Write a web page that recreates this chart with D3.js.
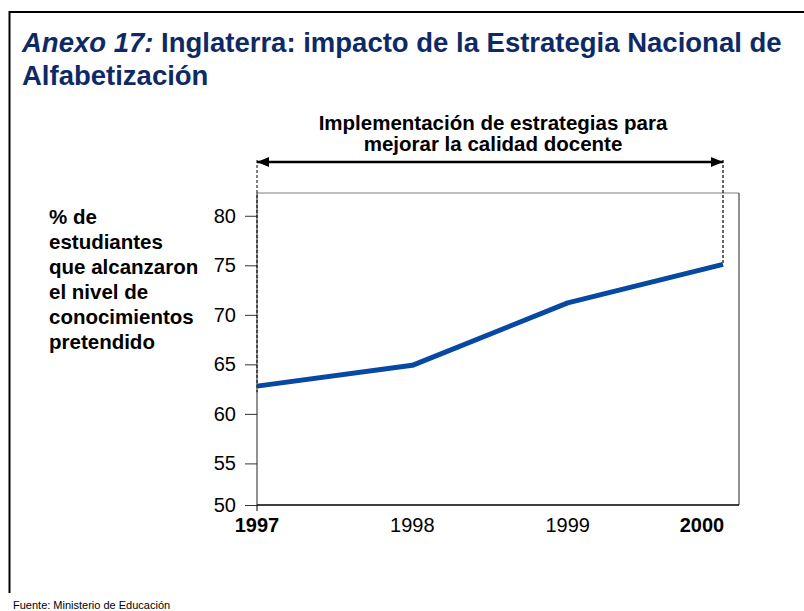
<!DOCTYPE html>
<html>
<head>
<meta charset="utf-8">
<script src="https://cdn.jsdelivr.net/npm/d3@7"></script>
<style>
  html, body { margin: 0; padding: 0; background: #fff; }
  svg { display: block; font-family: "Liberation Sans", Arial, sans-serif; }
</style>
</head>
<body>
<svg id="chart" width="804" height="611"></svg>
<script>
// ---- data ----
const years = [1997, 1998, 1999, 2000];
const values = [62.8, 64.9, 71.2, 75.1];
const yTicks = [50, 55, 60, 65, 70, 75, 80];
const boldYears = [1997, 2000];
const titleItalic = "Anexo 17:";
const titleRest = " Inglaterra: impacto de la Estrategia Nacional de";
const titleLine2 = "Alfabetización";
const arrowLabel = ["Implementación de estrategias para", "mejorar la calidad docente"];
const yLabel = ["% de", "estudiantes", "que alcanzaron", "el nivel de", "conocimientos", "pretendido"];
const source = "Fuente: Ministerio de Educación";

// ---- layout ----
const svg = d3.select("#chart");
const navy = "#0e2a66";
const blue = "#0649a3";

const plot = { left: 257, right: 739, top: 193, bottom: 505 };
const x = d3.scaleLinear().domain([1997, 2000]).range([257, 723]);
const y = d3.scaleLinear().domain([50.8, 82.3]).range([plot.bottom, plot.top]).clamp(true);

// frame
svg.append("path")
  .attr("d", `M9.5,593 L9.5,12 L804,12`)
  .attr("fill", "none").attr("stroke", "#000").attr("stroke-width", 2);

// title
const t1 = svg.append("text").attr("x", 22).attr("y", 52)
  .attr("fill", navy).attr("font-size", 27.5).attr("font-weight", "bold");
t1.append("tspan").attr("font-style", "italic").text(titleItalic);
t1.append("tspan").text(titleRest);
svg.append("text").attr("x", 22).attr("y", 85)
  .attr("fill", navy).attr("font-size", 27.5).attr("font-weight", "bold")
  .text(titleLine2);

// plot box (top gray, right dark)
svg.append("line").attr("x1", plot.left).attr("x2", plot.right)
  .attr("y1", plot.top).attr("y2", plot.top).attr("stroke", "#7f7f7f").attr("stroke-width", 1);
svg.append("line").attr("x1", plot.right).attr("x2", plot.right)
  .attr("y1", plot.top).attr("y2", plot.bottom).attr("stroke", "#222").attr("stroke-width", 1);

// y axis
const yAxis = d3.axisLeft(y).tickValues(yTicks).tickSize(12).tickPadding(9).tickFormat(d3.format("d"));
const gy = svg.append("g").attr("transform", `translate(${plot.left},0)`).call(yAxis);
gy.select(".domain").attr("stroke", "#222").attr("d", `M0,${plot.top}V${plot.bottom}`);
gy.selectAll(".tick line").attr("stroke", "#333");
gy.selectAll(".tick text").attr("font-size", 20).attr("fill", "#000")
  .attr("font-family", "Liberation Sans, Arial, sans-serif");

// x axis line
svg.append("line").attr("x1", plot.left).attr("x2", plot.right)
  .attr("y1", plot.bottom).attr("y2", plot.bottom).attr("stroke", "#000").attr("stroke-width", 1.5);
svg.append("line").attr("x1", plot.left).attr("x2", plot.left)
  .attr("y1", plot.bottom).attr("y2", plot.bottom + 6).attr("stroke", "#000");

// x labels
svg.append("g").selectAll("text").data(years).join("text")
  .attr("x", d => d === 2000 ? x(d) - 21 : x(d))
  .attr("y", 532)
  .attr("text-anchor", "middle")
  .attr("font-size", 20)
  .attr("font-weight", d => boldYears.includes(d) ? "bold" : "normal")
  .attr("fill", "#000")
  .text(d => d);

// dashed guides
const firstIdx = 0, lastIdx = years.length - 1;
svg.append("line").attr("x1", x(years[firstIdx])).attr("x2", x(years[firstIdx]))
  .attr("y1", 160).attr("y2", y(values[firstIdx]) + 6)
  .attr("stroke", "#000").attr("stroke-width", 1).attr("stroke-dasharray", "3,2");
svg.append("line").attr("x1", x(years[lastIdx])).attr("x2", x(years[lastIdx]))
  .attr("y1", 160).attr("y2", y(values[lastIdx]))
  .attr("stroke", "#000").attr("stroke-width", 1.2).attr("stroke-dasharray", "3,2");

// arrow
const defs = svg.append("defs");
defs.append("marker").attr("id", "ah").attr("viewBox", "0 0 12 10")
  .attr("refX", 12).attr("refY", 5).attr("markerWidth", 12).attr("markerHeight", 10)
  .attr("markerUnits", "userSpaceOnUse").attr("orient", "auto-start-reverse")
  .append("path").attr("d", "M0,0 L12,5 L0,10 Z").attr("fill", "#000");
svg.append("line").attr("x1", x(years[firstIdx])).attr("x2", x(years[lastIdx]))
  .attr("y1", 162).attr("y2", 162)
  .attr("stroke", "#000").attr("stroke-width", 2.5)
  .attr("marker-start", "url(#ah)").attr("marker-end", "url(#ah)");

// arrow label
svg.append("g").selectAll("text").data(arrowLabel).join("text")
  .attr("x", 493).attr("y", (d, i) => 130 + i * 21)
  .attr("text-anchor", "middle").attr("font-size", 20.5).attr("font-weight", "bold")
  .attr("fill", "#000").text(d => d);

// y label
svg.append("g").selectAll("text").data(yLabel).join("text")
  .attr("x", 49).attr("y", (d, i) => 224 + i * 25)
  .attr("font-size", 20.5).attr("font-weight", "bold").attr("fill", "#000")
  .text(d => d);

// line
const line = d3.line().x((d, i) => x(years[i])).y(d => y(d));
svg.append("path").datum(values)
  .attr("d", line).attr("fill", "none")
  .attr("stroke", blue).attr("stroke-width", 5).attr("stroke-linejoin", "round");

// source
svg.append("text").attr("x", 13).attr("y", 609)
  .attr("font-size", 11).attr("fill", "#000").text(source);
</script>
</body>
</html>
